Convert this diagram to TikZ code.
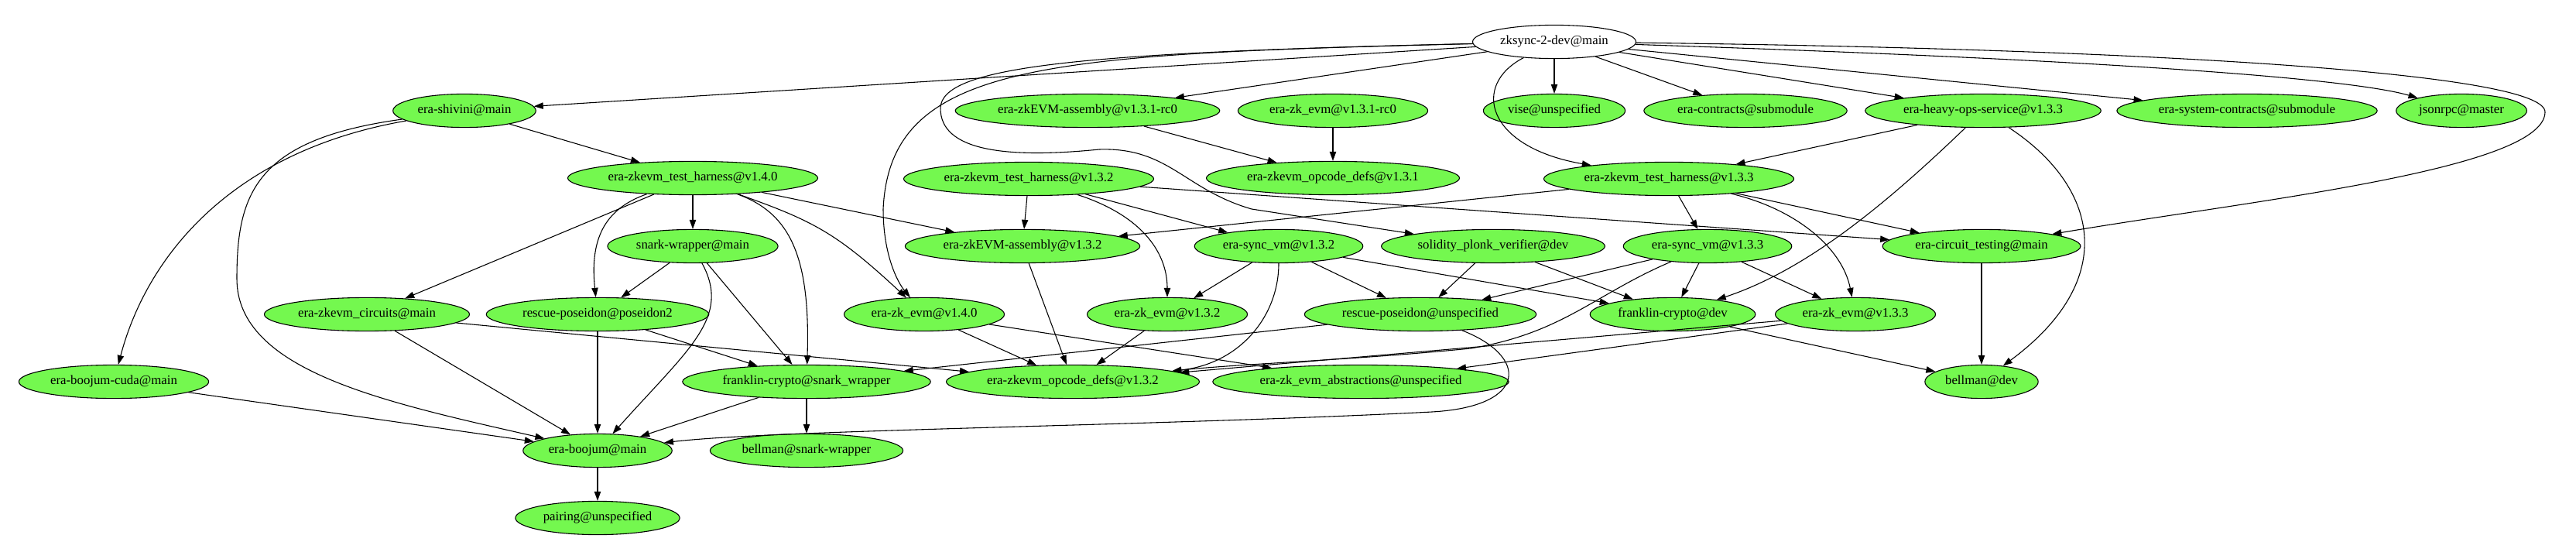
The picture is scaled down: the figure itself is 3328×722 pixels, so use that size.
\documentclass[tikz,border=0pt]{standalone}
\usepackage{fontspec}
\setmainfont{Liberation Serif}
\usetikzlibrary{arrows.meta,shapes.geometric}
\definecolor{pkggreen}{RGB}{116,248,79}
\begin{document}
\begin{tikzpicture}[>={Triangle[length=10pt,width=7pt]},x=0.8333pt,y=-0.8333pt,line width=0.9pt,
		pkg/.style={ellipse,draw,fill=pkggreen,inner xsep=4pt,inner ysep=0pt,minimum height=36pt,text height=9.5pt,text depth=3pt,font=\fontsize{14pt}{16pt}\selectfont},
		rootpkg/.style={pkg,fill=white}]
		\useasboundingbox (0,0) rectangle (3328,722);
		\node[rootpkg] (zk) at (2008,54) {zksync-2-dev@main};
		\node[pkg] (shivini) at (600,143) {era-shivini@main};
		\node[pkg] (asm131) at (1405,143) {era-zkEVM-assembly@v1.3.1-rc0};
		\node[pkg] (evm131) at (1722,143) {era-zk\_evm@v1.3.1-rc0};
		\node[pkg] (vise) at (2008,143) {vise@unspecified};
		\node[pkg] (contracts) at (2255,143) {era-contracts@submodule};
		\node[pkg] (heavyops) at (2562,143) {era-heavy-ops-service@v1.3.3};
		\node[pkg] (syscontracts) at (2903,143) {era-system-contracts@submodule};
		\node[pkg] (jsonrpc) at (3180,143) {jsonrpc@master};
		\node[pkg] (th140) at (895,230) {era-zkevm\_test\_harness@v1.4.0};
		\node[pkg] (th132) at (1329,231) {era-zkevm\_test\_harness@v1.3.2};
		\node[pkg] (opdefs131) at (1722,230) {era-zkevm\_opcode\_defs@v1.3.1};
		\node[pkg] (th133) at (2156,231) {era-zkevm\_test\_harness@v1.3.3};
		\node[pkg] (snarkw) at (895,318) {snark-wrapper@main};
		\node[pkg] (asm132) at (1321,318) {era-zkEVM-assembly@v1.3.2};
		\node[pkg] (sync132) at (1652,318) {era-sync\_vm@v1.3.2};
		\node[pkg] (solidity) at (1929,318) {solidity\_plonk\_verifier@dev};
		\node[pkg] (sync133) at (2206,318) {era-sync\_vm@v1.3.3};
		\node[pkg] (circtest) at (2560,318) {era-circuit\_testing@main};
		\node[pkg] (circuits) at (474,406) {era-zkevm\_circuits@main};
		\node[pkg] (rpos2) at (772,406) {rescue-poseidon@poseidon2};
		\node[pkg] (evm140) at (1194,406) {era-zk\_evm@v1.4.0};
		\node[pkg] (evm132) at (1508,406) {era-zk\_evm@v1.3.2};
		\node[pkg] (rposun) at (1835,406) {rescue-poseidon@unspecified};
		\node[pkg] (frankdev) at (2161,406) {franklin-crypto@dev};
		\node[pkg] (evm133) at (2397,406) {era-zk\_evm@v1.3.3};
		\node[pkg] (boojcuda) at (147,493) {era-boojum-cuda@main};
		\node[pkg] (franksw) at (1042,493) {franklin-crypto@snark\_wrapper};
		\node[pkg] (opdefs132) at (1386,493) {era-zkevm\_opcode\_defs@v1.3.2};
		\node[pkg] (abstr) at (1758,493) {era-zk\_evm\_abstractions@unspecified};
		\node[pkg] (bellmandev) at (2560,493) {bellman@dev};
		\node[pkg] (boojum) at (772,582) {era-boojum@main};
		\node[pkg] (bellsw) at (1042,582) {bellman@snark-wrapper};
		\node[pkg] (pairing) at (772,669) {pairing@unspecified};
		\draw[->] (zk) -- (shivini);
		\draw[->] (zk) -- (asm131);
		\draw[->] (zk) -- (vise);
		\draw[->] (zk) -- (contracts);
		\draw[->] (zk) -- (heavyops);
		\draw[->] (zk) -- (syscontracts);
		\draw[->] (zk) .. controls (2800,80) and (3050,105) .. (jsonrpc);
		\draw[->] (zk) .. controls (1900,110) and (1920,190) .. (th133);
		\draw[->] (zk) .. controls (2700,62) and (3290,90) .. (3288,145) .. controls (3286,220) and (2900,260) .. (circtest);
		\draw[->] (zk) .. controls (1350,70) and (1150,80) .. (1141,270) .. controls (1141,330) and (1160,365) .. (evm140);
		\draw[->] (zk) .. controls (1400,68) and (1215,85) .. (1215,140) .. controls (1215,195) and (1300,205) .. (1420,193) .. controls (1510,190) and (1530,245) .. (1617,270) -- (solidity);
		\draw[->] (shivini) -- (th140);
		\draw[->] (shivini) .. controls (300,195) and (190,330) .. (boojcuda);
		\draw[->] (shivini) .. controls (330,180) and (306,250) .. (306,360) .. controls (306,480) and (500,520) .. (boojum);
		\draw[->] (asm131) -- (opdefs131);
		\draw[->] (evm131) -- (opdefs131);
		\draw[->] (th140) -- (snarkw);
		\draw[->] (th140) -- (circuits);
		\draw[->] (th140) .. controls (780,270) and (762,310) .. (rpos2);
		\draw[->] (th140) .. controls (1020,275) and (1047,330) .. (franksw);
		\draw[->] (th140) .. controls (1050,285) and (1080,300) .. (evm140);
		\draw[->] (th140) -- (asm132);
		\draw[->] (th132) -- (asm132);
		\draw[->] (th132) -- (sync132);
		\draw[->] (th132) .. controls (1480,280) and (1508,330) .. (evm132);
		\draw[->] (th132) -- (circtest);
		\draw[->] (th133) -- (asm132);
		\draw[->] (th133) -- (sync133);
		\draw[->] (th133) -- (circtest);
		\draw[->] (th133) .. controls (2320,270) and (2380,320) .. (evm133);
		\draw[->] (heavyops) -- (th133);
		\draw[->] (heavyops) .. controls (2430,270) and (2330,350) .. (frankdev);
		\draw[->] (heavyops) .. controls (2710,240) and (2740,360) .. (bellmandev);
		\draw[->] (snarkw) -- (rpos2);
		\draw[->] (snarkw) -- (franksw);
		\draw[->] (snarkw) .. controls (945,410) and (890,450) .. (boojum);
		\draw[->] (asm132) -- (opdefs132);
		\draw[->] (sync132) -- (evm132);
		\draw[->] (sync132) -- (rposun);
		\draw[->] (sync132) .. controls (1652,410) and (1600,470) .. (opdefs132);
		\draw[->] (sync132) -- (frankdev);
		\draw[->] (solidity) -- (rposun);
		\draw[->] (solidity) -- (frankdev);
		\draw[->] (sync133) -- (rposun);
		\draw[->] (sync133) .. controls (2060,380) and (2020,430) .. (1900,450) .. controls (1750,465) and (1600,470) .. (opdefs132);
		\draw[->] (sync133) -- (frankdev);
		\draw[->] (sync133) -- (evm133);
		\draw[->] (circtest) -- (bellmandev);
		\draw[->] (circuits) -- (boojum);
		\draw[->] (circuits) -- (opdefs132);
		\draw[->] (rpos2) -- (boojum);
		\draw[->] (rpos2) -- (franksw);
		\draw[->] (evm140) -- (opdefs132);
		\draw[->] (evm140) -- (abstr);
		\draw[->] (evm132) -- (opdefs132);
		\draw[->] (rposun) -- (franksw);
		\draw[->] (rposun) .. controls (1975,460) and (1975,525) .. (1850,532) .. controls (1500,550) and (1000,555) .. (boojum);
		\draw[->] (frankdev) -- (bellmandev);
		\draw[->] (evm133) -- (opdefs132);
		\draw[->] (evm133) -- (abstr);
		\draw[->] (boojcuda) -- (boojum);
		\draw[->] (franksw) -- (boojum);
		\draw[->] (franksw) -- (bellsw);
		\draw[->] (boojum) -- (pairing);
		\end{tikzpicture}
\end{document}
